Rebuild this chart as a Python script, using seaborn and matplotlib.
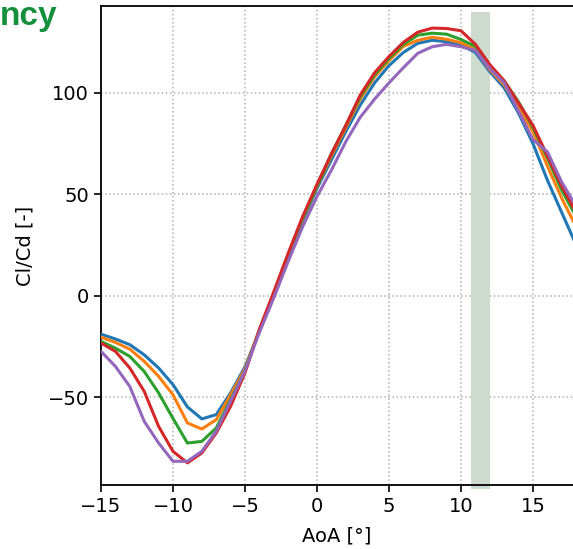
import numpy as np
import pandas as pd
import matplotlib
matplotlib.use("Agg")
import matplotlib.pyplot as plt
import seaborn as sns

aoa = list(range(-15, 19))
series_names = ["Case 1", "Case 2", "Case 3", "Case 4", "Case 5"]
blue = [-18.9, -21.3, -24.1, -29.1, -35.6, -43.8, -54.8, -60.7, -58.6, -47.9, -35,
        -17.5, 0, 19, 37, 53, 67, 81, 94, 105, 113.5, 120, 124.5, 126, 125.3, 123.6,
        120, 110.5, 102.5, 90, 75, 57, 41, 25]
orange = [-20.4, -23, -26.3, -32.3, -39.7, -48.8, -62.7, -65.7, -61.1, -48.8, -36,
          -17, 1, 20, 38, 54, 69, 83, 97, 108, 116, 123, 126, 127.5, 126.5, 124.8,
          121.5, 111.5, 104, 92.5, 81, 64, 48, 34]
green = [-22.5, -25.8, -29.9, -37.3, -47.9, -60.5, -72.6, -71.8, -65.2, -51.2, -37,
         -17, 1, 20, 38, 54, 70, 84, 98, 109, 117, 124, 128.5, 129.5, 129, 126.4,
         123, 113, 106, 95.5, 83, 68, 52, 39]
red = [-23.3, -27.4, -35.6, -47.1, -64.4, -76.7, -82.4, -77.5, -67.7, -54.5, -38,
       -16.5, 2, 21, 39, 55, 70, 84, 99, 110, 118, 125, 130, 132, 131.8, 130.7,
       124, 114, 106, 95, 84, 69, 54, 41]
purple = [-27.4, -34.8, -44.7, -61.9, -72.6, -81.6, -81.6, -76.7, -66.8, -52, -37,
          -18, -1, 17, 34, 49, 62, 76, 88, 97, 105, 112.5, 119.6, 122.8, 124, 122.8,
          121, 112, 105, 91, 77, 71, 56, 44]

x_ticks = [-15, -10, -5, 0, 5, 10, 15]
y_ticks = [-50, 0, 50, 100]
band = (10.7, 12.0)

rows = []
for name, vals in zip(series_names, [blue, orange, green, red, purple]):
    for a, v in zip(aoa, vals):
        rows.append({"AoA": a, "ClCd": v, "series": name})
df = pd.DataFrame(rows)

sns.set_style("ticks")
plt.rcParams["font.family"] = ["DejaVu Sans"]
plt.rcParams["text.color"] = "black"
plt.rcParams["axes.labelcolor"] = "black"
plt.rcParams["xtick.color"] = "black"
plt.rcParams["ytick.color"] = "black"

W, H = 573, 549
fig = plt.figure(figsize=(W / 100, H / 100), dpi=100)
ax = fig.add_axes([101 / W, (H - 485) / H, 1 - 101 / W, (485 - 6) / H])

ax.grid(True, linestyle=":", color="#b0b0b0", linewidth=1.1, zorder=0)
ax.set_axisbelow(True)

sns.lineplot(data=df, x="AoA", y="ClCd", hue="series", palette="tab10",
             linewidth=2.2, legend=False, ax=ax, zorder=3)

ax.axvspan(band[0], band[1], ymin=-4 / 479, ymax=(485 - 12) / 479,
           color="#cddbcf", clip_on=False, zorder=2, linewidth=0)

ax.set_xlim(-15, 15 + (573 - 533) / 14.4)
ax.set_ylim(-93.3, 142.9)
ax.set_xticks(x_ticks)
ax.set_yticks(y_ticks)
ax.tick_params(labelsize=14, length=5, width=1.2, color="black", labelcolor="black")
ax.set_xlabel("AoA [°]", fontsize=14, labelpad=8, color="black")
ax.set_ylabel("Cl/Cd [-]", fontsize=14, labelpad=10, color="black")
for s in ["left", "bottom", "top"]:
    ax.spines[s].set_color("black")
    ax.spines[s].set_linewidth(1.3)
ax.spines["right"].set_visible(False)

fig.text(0, 1 - 25 / H, "ncy", fontsize=24, fontweight="bold", color="#14903c",
         family=["Liberation Sans", "DejaVu Sans"], ha="left", va="baseline")

fig.savefig("out.png", dpi=100)
